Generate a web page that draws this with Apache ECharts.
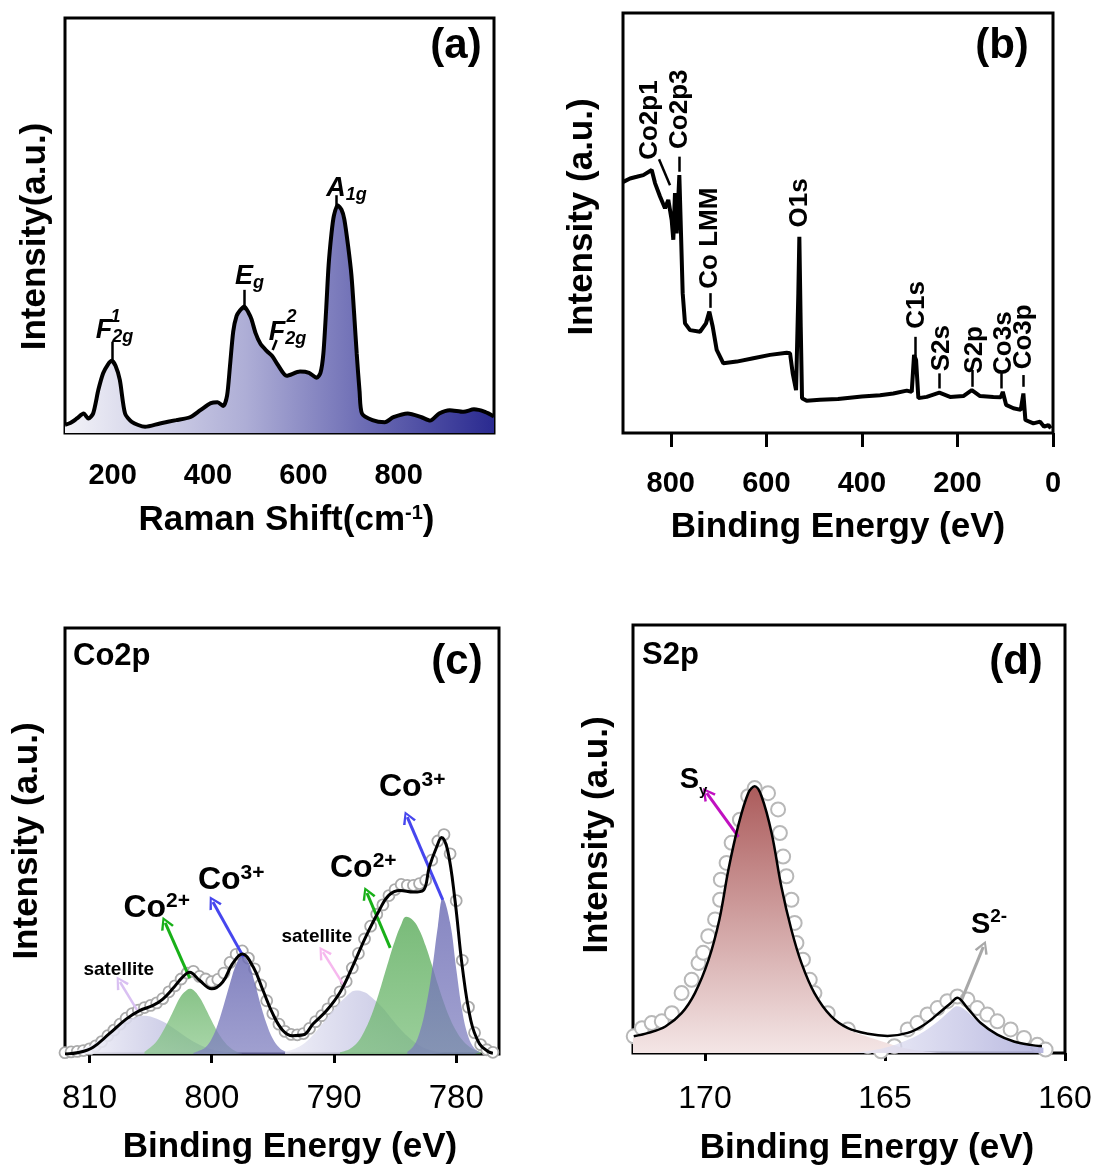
<!DOCTYPE html>
<html>
<head>
<meta charset="utf-8">
<script src="https://cdn.jsdelivr.net/npm/echarts@6/dist/echarts.min.js"></script>
<style>
html,body{margin:0;padding:0;background:#fff;}
#chart{width:1097px;height:1167px;}
</style>
</head>
<body>
<div id="chart"></div>
<script>
var FONT = 'Liberation Sans, Arial, sans-serif';

// (a) Raman spectrum
var ramanShift = [100,111,125,139,149,159,170,180,190,198,206,215,226,240,268,299,333,362,384,406,420,432,440,446,453,460,467,476,485,491,500,510,523,535,546,565,593,612,628,636,642,648,653,659,664,672,680,686,694,701,707,712,718,723,745,771,789,819,848,866,885,907,936,958,981,1000];
var ramanIntensity = [2.0,2.4,3.5,4.7,3.5,4.7,10.4,14.4,16.5,17.4,16.2,12.8,4.7,2.7,1.5,2.3,3.1,3.8,5.5,7.2,7.4,6.5,9.0,16.0,24.5,28.2,29.5,30.5,29.0,27.5,24.0,21.5,19.8,18.5,16.5,13.8,14.8,14.5,13.3,14.5,19.1,30.0,40.4,48.0,52.3,54.9,53.8,51.5,45.0,37.9,28.0,19.1,10.0,4.7,3.1,2.6,3.8,4.7,3.8,3.0,4.7,5.5,5.1,5.7,5.1,4.0];
var ramanTicks = [200,400,600,800];

// (b) XPS survey
var surveyBE = [899.4,885.3,871.3,857.5,839.9,833,822.5,812.1,805.2,798.1,794.7,791.2,787.6,782.1,778.6,775.1,770.2,759.7,738.8,726.3,719.3,712.2,703.9,690,662,627.2,592.3,557.3,550.4,544.8,537.8,533,530.9,528,525.3,515.5,487.6,450,400,362,334.2,306.1,295.7,290.8,286.6,281.8,264.3,237.9,215.5,187.6,170,152.7,124.8,109.3,105.1,98.2,82.9,67.5,62,57.8,41,27,18.6,9.6,4.6];
var surveyIntensity = [59.8,60.6,61.0,61.4,62.6,59.5,56.3,53.5,55.5,50.7,46.0,57.1,47.5,61.4,47.5,33.3,26.1,24.5,24.1,26.1,28.9,25.3,19.8,16.6,17.0,17.8,18.6,19.1,19.0,14.2,10.2,33.3,46.7,25.3,8.3,7.7,7.9,8.1,8.7,9.0,9.4,10.1,9.8,18.6,17.4,8.3,8.6,9.6,8.6,8.8,10.2,8.8,8.6,8.5,9.8,6.7,5.9,5.5,9.4,3.1,2.3,2.7,1.5,1.9,1.1];
var surveyTicks = [0,200,400,600,800];
var surveyPeaks = ['Co2p1','Co2p3','Co LMM','O1s','C1s','S2s','S2p','Co3s','Co3p'];
var surveyPeakBE = [843.5,780.7,717.9,529.5,284.6,232.2,163.1,103.5,60.6];

// (c) Co2p high resolution
var coRawBE = [812,811.5,811,810.5,810,809.5,809,808.5,808,807.5,807,806.5,806,805.5,805,804.5,804,803.5,803,802.5,802,801.5,801,800.5,800,799.5,799,798.5,798,797.5,797,796.5,796,795.5,795,794.5,794,793.5,793,792.5,792,791.5,791,790.5,790,789.5,789,788.5,788,787.5,787,786.5,786,785.5,785,784.5,784,783.5,783,782.5,782,781.5,781,780.5,780,779.5,779,778.5,778,777.5,777];
var coRawI = [0.3,0.5,0.6,0.8,1.2,1.9,2.9,4.3,5.6,7.0,8.4,9.5,10.3,10.9,11.4,12.0,13.0,14.6,16.0,17.6,19.0,19.4,18.2,17.6,17.0,17.5,19.0,21.5,23.4,24.2,22.5,20.0,16.2,12.5,9.5,7.0,5.3,4.6,4.5,4.8,6.0,7.6,9.0,10.6,12.4,14.6,17.0,20.2,23.6,27.0,30.0,32.8,35.0,37.2,38.6,39.8,39.6,39.6,40.0,40.8,45.5,50.0,51.5,47.0,36.0,22.0,11.0,5.0,2.2,1.0,0.4];
var coFitBE = [812.0,810.8,809.7,808.4,807.0,805.9,804.8,804.0,803.2,802.4,801.8,801.0,800.0,799.1,798.3,797.5,796.6,795.8,795.0,794.2,793.4,792.5,791.7,790.6,789.5,788.5,787.4,786.3,785.5,784.6,783.5,782.7,782.2,781.6,781.2,780.7,780.1,779.5,778.8,778.1,777.4,777.0];
var coFitI = [0,0.4,1.6,4.7,8.2,10.2,11.4,12.9,15.3,18.0,19.2,17.3,15.3,16.9,21.2,23.5,20.4,14.9,9.4,5.6,4.3,4.5,7.1,10.2,14.5,20.4,27.5,33.7,37.3,38.4,38.0,38.4,43.9,48.6,50.8,47.8,36.1,20.4,7.8,2.4,0.6,0.2];
var coSat1 = [[811,1.0],[810,1.9],[809,3.7],[808,5.8],[807,7.8],[806,8.8],[805.5,9.0],[805,8.8],[804,7.6],[803,5.8],[802,3.8],[801,2.2],[800,1.1],[799,0.5],[798,0.2]];
var coII1 = [[805.5,0.5],[805,1.6],[804.5,3.0],[804,5.3],[803.5,8.0],[803,11.0],[802.5,13.7],[802,15.1],[801.8,15.3],[801.5,15.0],[801,13.3],[800.5,10.7],[800,7.8],[799.5,5.1],[799,3.0],[798.5,1.5],[798,0.6],[797.5,0.2]];
var coIII1 = [[801.5,0.2],[801,0.8],[800.5,1.6],[800,3.6],[799.5,7.0],[799,11.6],[798.5,16.6],[798,21.0],[797.5,23.1],[797,21.5],[796.5,17.0],[796,11.6],[795.5,7.0],[795,3.6],[794.5,1.6],[794,0.6],[793.5,0.2]];
var coSat2 = [[794,0.5],[793,1.5],[792,3.6],[791,6.9],[790,10.5],[789,13.5],[788.2,14.9],[787.5,14.5],[787,13.5],[786,10.8],[785,7.3],[784,4.2],[783,2.0],[782,0.8],[781,0.3]];
var coII2 = [[789.5,0.4],[789,0.8],[788.5,1.6],[788,3.0],[787.5,5.4],[787,8.6],[786.5,12.7],[786,17.4],[785.5,22.2],[785,26.7],[784.5,30.4],[784.1,32.2],[783.5,31.3],[783,29.0],[782.5,25.4],[782,21.0],[781.5,16.3],[781,12.0],[780.5,8.3],[780,5.4],[779.5,3.3],[779,1.9],[778.5,1.0],[778,0.5]];
var coIII2 = [[784,0.5],[783.5,1.8],[783,5.0],[782.5,10.8],[782,19.2],[781.5,30.0],[781.1,36.5],[780.5,30.8],[780,20.0],[779.5,10.0],[779,4.0],[778.5,1.3],[778,0.4]];
var coTicks = [780,790,800,810];

// (d) S2p high resolution
var sRaw = [[171.98,3.9],[171.75,5.8],[171.48,7.0],[171.2,7.4],[170.92,9.3],[170.65,14.0],[170.37,17.1],[170.18,21.0],[170.05,23.4],[169.91,27.3],[169.72,31.2],[169.58,35.8],[169.56,40.5],[169.4,44.4],[169.26,49.1],[169.03,54.5],[168.8,60.0],[168.62,61.9],[168.25,60.7],[167.97,56.9],[167.92,51.4],[167.83,45.9],[167.74,41.3],[167.6,35.8],[167.51,30.4],[167.46,25.7],[167.28,21.8],[167.09,17.1],[166.96,14.0],[166.59,9.3],[166.03,5.5],[165.48,1.6],[165.11,0.4],[164.74,1.6],[164.37,5.5],[164.1,7.0],[163.82,9.0],[163.54,10.5],[163.27,12.1],[162.99,13.2],[162.71,12.5],[162.44,10.5],[162.16,9.0],[161.88,7.4],[161.51,5.5],[161.14,3.5],[160.77,1.9],[160.54,0.8]];
var sFit = [[171.98,3.9],[171.57,4.7],[171.1,6.2],[170.65,9.3],[170.28,14.0],[169.9,21.8],[169.6,31.2],[169.35,42.8],[169.08,53.0],[168.8,60.7],[168.62,62.3],[168.43,60.0],[168.15,51.4],[167.88,38.9],[167.6,28.8],[167.32,21.0],[166.96,14.0],[166.5,8.6],[166.03,5.8],[165.48,4.5],[164.93,4.0],[164.37,4.7],[163.91,6.6],[163.45,9.7],[163.17,11.7],[162.99,12.9],[162.71,10.5],[162.34,7.0],[161.88,4.3],[161.42,2.7],[160.96,1.9],[160.64,1.6]];
var sSy = [[172,3.5],[171.57,4.5],[171.1,6.0],[170.65,9.1],[170.28,13.8],[169.9,21.6],[169.6,31.0],[169.35,42.6],[169.08,52.8],[168.8,60.5],[168.62,62.1],[168.43,59.8],[168.15,51.2],[167.88,38.7],[167.6,28.6],[167.32,20.8],[166.96,13.8],[166.5,8.4],[166.03,5.5],[165.48,3.8],[164.93,2.3],[164.37,1.0],[163.8,0.3],[163.4,0]];
var sS2 = [[166.0,0],[165.5,0.4],[165.0,1.2],[164.5,2.6],[164.0,4.6],[163.5,7.6],[163.2,9.8],[163.0,10.9],[162.8,10.2],[162.5,8.0],[162.0,5.0],[161.5,3.0],[161.0,1.8],[160.6,1.2]];
var sTicks = [160,165,170];

function zip(xs, ys) { return xs.map(function (x, i) { return [x, ys[i]]; }); }
function grad(x2, y2, c0, c1) {
  return new echarts.graphic.LinearGradient(0, 0, x2, y2, [{offset: 0, color: c0}, {offset: 1, color: c1}]);
}

var ARROW = 'path://M0,12 L6,0 L12,12 L10,13 L6,4 L2,13 Z';

function tok(size, extra) {
  return Object.assign({fontSize: size, fontWeight: 'bold', fontFamily: FONT, color: '#000',
    textBorderWidth: 0, textBorderColor: 'transparent'}, extra || {});
}
var RICH = {
  co: tok(32, {lineHeight: 34}),
  sup: tok(21, {verticalAlign: 'top', lineHeight: 20}),
  sat: tok(19),
  it: tok(27, {fontStyle: 'italic', lineHeight: 30}),
  itsub: tok(18, {fontStyle: 'italic', verticalAlign: 'bottom', lineHeight: 16}),
  itsup: tok(18, {fontStyle: 'italic'}),
  s: tok(29, {lineHeight: 36}),
  ssub: tok(15, {verticalAlign: 'bottom', lineHeight: 8}),
  ssup: tok(19, {verticalAlign: 'top', lineHeight: 20}),
  pk: tok(26)
};

// annotation layout (data coordinates of each panel)
var ramanNotes = [
  {x: 203.8, y: 24.6, text: '{it|F}{itsub|2g}'},
  {x: 206, y: 28.0, text: '{itsup|1}'},
  {x: 487, y: 37.6, text: '{it|E}{itsub|g}'},
  {x: 566.7, y: 24.1, text: '{it|F}{itsub|2g}'},
  {x: 575, y: 28.0, text: '{itsup|2}'},
  {x: 690.5, y: 58.8, text: '{it|A}{itsub|1g}'}
];
var ramanLines = [
  {x1: 200, y1: 17.6, x2: 200, y2: 22.0},
  {x1: 476, y1: 29.6, x2: 476, y2: 34.5},
  {x1: 670, y1: 54.5, x2: 670, y2: 57.3},
  {x1: 535.7, y1: 20.0, x2: 544, y2: 22.4}
];
var surveyLabelY = [74.5, 77.1, 46.4, 54.8, 30.5, 20.2, 19.8, 21.4, 22.9];
var surveyNotes = surveyPeaks.map(function (p, i) {
  return {x: surveyPeakBE[i], y: surveyLabelY[i], text: '{pk|' + p + '}', rotate: 90};
});
var surveyLines = [
  {x1: 824.6, y1: 65.2, x2: 801.6, y2: 59.0},
  {x1: 782.1, y1: 62.2, x2: 782.1, y2: 65.8},
  {x1: 717.9, y1: 29.8, x2: 717.9, y2: 33.3},
  {x1: 288.7, y1: 18.2, x2: 288.7, y2: 22.9},
  {x1: 237.9, y1: 10.6, x2: 237.9, y2: 14.2},
  {x1: 170, y1: 11.0, x2: 170, y2: 15.0},
  {x1: 107.3, y1: 10.6, x2: 107.3, y2: 14.2},
  {x1: 62, y1: 11.0, x2: 62, y2: 13.8}
];
var coNotes = [
  {x: 804.5, y: 34.3, text: '{co|Co}{sup|2+}'},
  {x: 798.4, y: 40.8, text: '{co|Co}{sup|3+}'},
  {x: 807.6, y: 19.7, text: '{sat|satellite}'},
  {x: 791.4, y: 27.5, text: '{sat|satellite}'},
  {x: 787.6, y: 43.7, text: '{co|Co}{sup|2+}'},
  {x: 783.6, y: 62.7, text: '{co|Co}{sup|3+}'}
];
var coArrows = [
  {x1: 801.8, y1: 17.8, x2: 803.8, y2: 30.8, color: '#18b018', w: 3, arrow: true},
  {x1: 797.4, y1: 22.8, x2: 799.9, y2: 35.7, color: '#4646ee', w: 3, arrow: true},
  {x1: 806.1, y1: 10.3, x2: 807.5, y2: 16.9, color: '#d9c0f2', w: 2.5, arrow: true},
  {x1: 789.1, y1: 15.7, x2: 790.9, y2: 23.9, color: '#f6b8ee', w: 2.5, arrow: true},
  {x1: 785.4, y1: 24.9, x2: 787.3, y2: 37.8, color: '#18b018', w: 3, arrow: true},
  {x1: 781.1, y1: 36.2, x2: 784.0, y2: 55.6, color: '#4646ee', w: 3, arrow: true}
];
var sNotes = [
  {x: 170.32, y: 63.8, text: '{s|S}{ssub|y}'},
  {x: 162.11, y: 29.9, text: '{s|S}{ssup|2-}'}
];
var sArrows = [
  {x1: 169.07, y1: 50.5, x2: 169.95, y2: 60.7, color: '#c010c0', w: 3, arrow: true},
  {x1: 162.87, y1: 12.4, x2: 162.27, y2: 24.8, color: '#a8a8a8', w: 3, arrow: true}
];

function notes(idx, items, lines) {
  return {
    type: 'scatter', xAxisIndex: idx, yAxisIndex: idx, symbolSize: 1, silent: true, z: 10,
    itemStyle: {color: 'rgba(0,0,0,0)', opacity: 1},
    data: items.map(function (it) {
      return {
        value: [it.x, it.y],
        label: {show: true, position: 'inside', align: 'center', verticalAlign: 'middle',
          color: '#000', textBorderWidth: 0, textBorderColor: 'transparent',
          rotate: it.rotate || 0, formatter: it.text, rich: RICH}
      };
    }),
    markLine: {
      silent: true, animation: false, label: {show: false},
      data: lines.map(function (l) {
        return [
          {coord: [l.x1, l.y1], symbol: 'none', lineStyle: {color: l.color || '#000', width: l.w || 2.5, type: 'solid'}},
          {coord: [l.x2, l.y2], symbol: l.arrow ? ARROW : 'none', symbolSize: l.arrow ? [14, 13] : 1}
        ];
      })
    }
  };
}

function area(idx, data, color, z) {
  return {type: 'line', xAxisIndex: idx, yAxisIndex: idx, data: data, smooth: 0.4, symbol: 'none',
    lineStyle: {width: 0}, areaStyle: {color: color, opacity: 1}, z: z || 2, silent: true};
}

function xAx(idx, min, max, inverse, ticks, tickOpt, labelOpt, name, nameGap, nameStyle) {
  return {
    gridIndex: idx, type: 'value', min: min, max: max, inverse: inverse,
    axisLine: {show: false}, splitLine: {show: false},
    axisTick: Object.assign({show: true, customValues: ticks, lineStyle: {color: '#000', width: 3}}, tickOpt),
    axisLabel: Object.assign({customValues: ticks, color: '#000', fontFamily: FONT}, labelOpt),
    name: name, nameLocation: 'middle', nameGap: nameGap,
    nameTextStyle: Object.assign({fontSize: 35, fontWeight: 'bold', fontFamily: FONT, color: '#000'}, nameStyle || {})
  };
}
function yAx(idx, name, gap, pad) {
  return {
    gridIndex: idx, type: 'value', min: 0, max: 100,
    axisLine: {show: false}, axisTick: {show: false}, axisLabel: {show: false}, splitLine: {show: false},
    name: name, nameLocation: 'middle', nameGap: gap, nameRotate: 90,
    nameTextStyle: {fontSize: 35, fontWeight: 'bold', fontFamily: FONT, color: '#000', padding: pad}
  };
}

var box = {show: true, borderColor: '#000', borderWidth: 3, backgroundColor: 'transparent'};

var option = {
  animation: false,
  backgroundColor: '#fff',
  grid: [
    Object.assign({left: 65, top: 18, width: 429, height: 415}, box),
    Object.assign({left: 623, top: 13, width: 430, height: 420}, box),
    Object.assign({left: 65, top: 628, width: 434, height: 426}, box),
    Object.assign({left: 633, top: 625, width: 432, height: 428}, box)
  ],
  xAxis: [
    xAx(0, 100, 1000, false, ramanTicks, {inside: true, length: 8},
      {fontSize: 29, fontWeight: 'bold', margin: 28},
      '{t|Raman Shift(cm}{s|-1}{t|)}', 70,
      {padding: [0, 0, 0, 14],
       rich: {t: tok(35), s: tok(20, {verticalAlign: 'top', lineHeight: 18})}}),
    xAx(1, 0, 900, true, surveyTicks, {inside: false, length: 14},
      {fontSize: 29, fontWeight: 'bold', margin: 36}, 'Binding Energy (eV)', 77),
    xAx(2, 776.5, 812, true, coTicks, {inside: false, length: 9},
      {fontSize: 33, margin: 28}, 'Binding Energy (eV)', 76, {padding: [0, 0, 0, 16]}),
    xAx(3, 160, 172, true, sTicks, {inside: false, length: 8},
      {fontSize: 32, margin: 30}, 'Binding Energy (eV)', 78, {padding: [0, 0, 0, 36]})
  ],
  yAxis: [
    yAx(0, 'Intensity(a.u.)', 12, [0, 22, 0, 0]),
    yAx(1, 'Intensity (a.u.)', 23, [0, 0, 0, 12]),
    yAx(2, 'Intensity (a.u.)', 20, 0),
    yAx(3, 'Intensity (a.u.)', 18, [0, 0, 0, 8])
  ],
  graphic: [
    {type: 'text', x: 456, y: 46, style: {text: '(a)', font: 'bold 42px ' + FONT, fill: '#000', textAlign: 'center', textVerticalAlign: 'middle'}},
    {type: 'text', x: 1002, y: 46, style: {text: '(b)', font: 'bold 42px ' + FONT, fill: '#000', textAlign: 'center', textVerticalAlign: 'middle'}},
    {type: 'text', x: 457, y: 662, style: {text: '(c)', font: 'bold 42px ' + FONT, fill: '#000', textAlign: 'center', textVerticalAlign: 'middle'}},
    {type: 'text', x: 1016, y: 662, style: {text: '(d)', font: 'bold 42px ' + FONT, fill: '#000', textAlign: 'center', textVerticalAlign: 'middle'}},
    {type: 'text', x: 73, y: 656, style: {text: 'Co2p', font: 'bold 31px ' + FONT, fill: '#000', textAlign: 'left', textVerticalAlign: 'middle'}},
    {type: 'text', x: 642, y: 655, style: {text: 'S2p', font: 'bold 31px ' + FONT, fill: '#000', textAlign: 'left', textVerticalAlign: 'middle'}}
  ],
  series: [
    // (a)
    {type: 'line', xAxisIndex: 0, yAxisIndex: 0, data: zip(ramanShift, ramanIntensity), smooth: 0.25, symbol: 'none',
      lineStyle: {color: '#000', width: 4},
      areaStyle: {opacity: 1, color: new echarts.graphic.LinearGradient(0, 0, 1, 0, [
        {offset: 0, color: '#f3f3f8'}, {offset: 0.42, color: '#aeaed6'}, {offset: 0.68, color: '#7070b6'}, {offset: 1, color: '#2a2a90'}])}},
    notes(0, ramanNotes, ramanLines),
    // (b)
    {type: 'line', xAxisIndex: 1, yAxisIndex: 1, data: zip(surveyBE, surveyIntensity), symbol: 'none',
      lineStyle: {color: '#000', width: 4}},
    notes(1, surveyNotes, surveyLines),
    // (c)
    {type: 'scatter', xAxisIndex: 2, yAxisIndex: 2, data: zip(coRawBE, coRawI), symbol: 'circle', symbolSize: 11, z: 1,
      itemStyle: {color: '#fff', borderColor: '#aaaaaa', borderWidth: 1.8, opacity: 1}, silent: true},
    area(2, coSat1, grad(1, 0, 'rgba(244,244,250,0.9)', 'rgba(165,165,212,0.85)')),
    area(2, coII1, grad(0, 1, 'rgba(106,180,106,0.8)', 'rgba(135,198,135,0.72)')),
    area(2, coIII1, grad(0, 1, 'rgba(108,108,180,0.84)', 'rgba(128,128,192,0.75)')),
    area(2, coSat2, grad(1, 0, 'rgba(236,236,246,0.85)', 'rgba(170,170,214,0.8)')),
    area(2, coII2, grad(0, 1, 'rgba(92,172,92,0.82)', 'rgba(120,190,120,0.75)')),
    area(2, coIII2, grad(0, 1, 'rgba(108,108,180,0.82)', 'rgba(125,125,190,0.72)')),
    {type: 'line', xAxisIndex: 2, yAxisIndex: 2, data: zip(coFitBE, coFitI), smooth: 0.4, symbol: 'none', z: 5,
      lineStyle: {color: '#000', width: 3}},
    notes(2, coNotes, coArrows),
    // (d)
    {type: 'scatter', xAxisIndex: 3, yAxisIndex: 3, data: sRaw, symbol: 'circle', symbolSize: 14, z: 1,
      itemStyle: {color: '#fff', borderColor: '#b8b8b8', borderWidth: 2, opacity: 1}, silent: true},
    area(3, sSy, grad(0, 1, 'rgb(172,92,92)', 'rgb(244,230,230)'), 2),
    area(3, sS2, grad(1, 0, 'rgba(232,232,246,0.7)', 'rgba(176,176,220,0.9)'), 3),
    {type: 'line', xAxisIndex: 3, yAxisIndex: 3, data: sFit, smooth: 0.35, symbol: 'none', z: 5,
      lineStyle: {color: '#000', width: 2.5}},
    notes(3, sNotes, sArrows)
  ]
};

var chart = echarts.init(document.getElementById('chart'));
chart.setOption(option);
</script>
</body>
</html>
